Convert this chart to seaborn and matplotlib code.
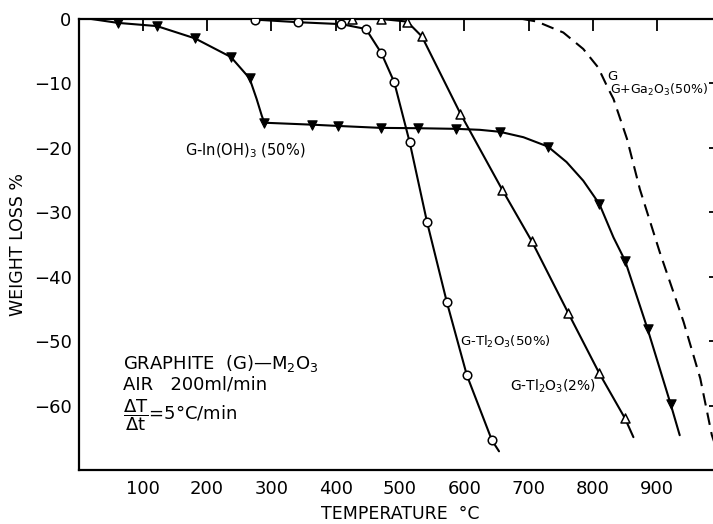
import matplotlib
matplotlib.use("Agg")
import matplotlib.pyplot as plt
import seaborn as sns
import pandas as pd

# ---------------- data ----------------
# G-In(OH)3 (50%) : filled down-triangles
in_T = [20, 61, 122, 181, 237, 266, 277, 285, 289, 363, 404, 470, 528, 587, 624, 655, 692, 730, 759, 785, 810, 832, 850, 885, 921, 935]
in_W = [0.0, -0.6, -1.1, -3.0, -5.9, -9.2, -12.4, -15.0, -16.1, -16.4, -16.6, -16.9, -16.95, -17.05, -17.2, -17.5, -18.35, -19.8, -22.2, -25.1, -28.7, -33.9, -37.5, -48.1, -59.8, -64.6]
in_M = [0, 1, 1, 1, 1, 1, 0, 0, 1, 1, 1, 1, 1, 1, 0, 1, 0, 1, 0, 0, 1, 0, 1, 1, 1, 0]

# G-Tl2O3 (50%) : open circles
tl50_T = [275, 342, 409, 447, 471, 491, 515, 542, 573, 604, 643, 654]
tl50_W = [-0.1, -0.5, -0.8, -1.55, -5.3, -9.8, -19.1, -31.5, -44.0, -55.3, -65.4, -67.1]
tl50_M = [1, 1, 1, 1, 1, 1, 1, 1, 1, 1, 1, 0]

# G-Tl2O3 (2%) : open triangles
tl2_T = [425, 471, 511, 534, 594, 659, 705, 762, 810, 850, 863]
tl2_W = [0.0, 0.0, -0.4, -2.7, -14.7, -26.5, -34.5, -45.7, -55.0, -62.0, -64.9]
tl2_M = [1, 1, 1, 1, 1, 1, 1, 1, 1, 1, 0]

# G and G+Ga2O3 (50%) : dashed line, no markers
ga_T = [691, 713, 754, 785, 808, 824, 832, 853, 873, 904, 941, 967, 985, 995]
ga_W = [0.0, -0.4, -2.1, -4.65, -7.5, -10.85, -12.4, -18.6, -26.4, -36.2, -47.0, -55.8, -64.6, -67.5]

x_ticks = [100, 200, 300, 400, 500, 600, 700, 800, 900]
y_ticks = [0, -10, -20, -30, -40, -50, -60]

# ---------------- figure ----------------
sns.set_theme(style="white")
plt.rcParams["font.family"] = ["DejaVu Sans"]
plt.rcParams["axes.unicode_minus"] = True
plt.rcParams["text.color"] = "black"
plt.rcParams["axes.labelcolor"] = "black"

W_PX, H_PX = 713, 524
fig = plt.figure(figsize=(W_PX / 100, H_PX / 100), dpi=100)
ax = fig.add_axes([78.5 / W_PX, 1 - 470 / H_PX, (721.5 - 78.5) / W_PX, (470 - 19) / H_PX])

def frame(T, W, M=None):
    d = pd.DataFrame({"T": T, "W": W})
    if M is not None:
        d["M"] = M
    return d

df_in = frame(in_T, in_W, in_M)
df_50 = frame(tl50_T, tl50_W, tl50_M)
df_2 = frame(tl2_T, tl2_W, tl2_M)
df_ga = frame(ga_T, ga_W)

lw = 1.5
for d in (df_in, df_50, df_2):
    sns.lineplot(data=d, x="T", y="W", ax=ax, color="black", linewidth=lw,
                 estimator=None, sort=False, legend=False)
sns.lineplot(data=df_ga, x="T", y="W", ax=ax, color="black", linewidth=lw,
             estimator=None, sort=False, legend=False, linestyle=(0, (6, 3.5)))

sns.scatterplot(data=df_in[df_in.M == 1], x="T", y="W", ax=ax, marker="v",
                s=45, color="black", edgecolor="black", linewidth=0.8, zorder=5, legend=False)
sns.scatterplot(data=df_50[df_50.M == 1], x="T", y="W", ax=ax, marker="o",
                s=38, facecolor="white", edgecolor="black", linewidth=1.1, zorder=5, legend=False)
sns.scatterplot(data=df_2[df_2.M == 1], x="T", y="W", ax=ax, marker="^",
                s=42, facecolor="white", edgecolor="black", linewidth=1.1, zorder=5, legend=False)

ax.set_xlim(0, 1000)
ax.set_ylim(-70, 0)
ax.set_xticks(x_ticks)
ax.set_yticks(y_ticks)
ax.set_xticklabels([str(v) for v in x_ticks])
ax.set_yticklabels([("\u2212" + str(-v)) if v < 0 else "0" for v in y_ticks])

for side in ("left", "bottom", "top", "right"):
    ax.spines[side].set_visible(True)
    ax.spines[side].set_color("black")
    ax.spines[side].set_linewidth(1.6)

ax.tick_params(axis="both", direction="in", length=8.5, width=1.3, color="black",
               top=True, right=True, labelsize=13, labelcolor="black")
ax.tick_params(axis="x", pad=7)
ax.tick_params(axis="y", pad=5)

ax.set_xlabel("TEMPERATURE  \u00b0C", fontsize=12.5, labelpad=5, color="black")
ax.set_ylabel("WEIGHT LOSS %", fontsize=12.5, labelpad=5, color="black")

ax.text(166, -21.2, "G-In(OH)$_3$ (50%)", fontsize=10.5, ha="left", va="baseline")
ax.text(593, -50.7, "G-Tl$_2$O$_3$(50%)", fontsize=9.5, ha="left", va="baseline")
ax.text(671, -57.6, "G-Tl$_2$O$_3$(2%)", fontsize=10, ha="left", va="baseline")
ax.text(823, -9.4, "G", fontsize=9.5, ha="left", va="baseline")
ax.text(827, -11.6, "G+Ga$_2$O$_3$(50%)", fontsize=9, ha="left", va="baseline")

big = 13
ax.text(69, -54.3, "GRAPHITE  (G)\u2014M$_2$O$_3$", fontsize=big, ha="left", va="baseline")
ax.text(69, -57.5, "AIR   200ml/min", fontsize=big, ha="left", va="baseline")
ax.text(69, -62.3, r"$\dfrac{\Delta\mathrm{T}}{\Delta\mathrm{t}}$" + "=5\u00b0C/min",
        fontsize=big, ha="left", va="baseline")

fig.savefig("out.png", dpi=100)
